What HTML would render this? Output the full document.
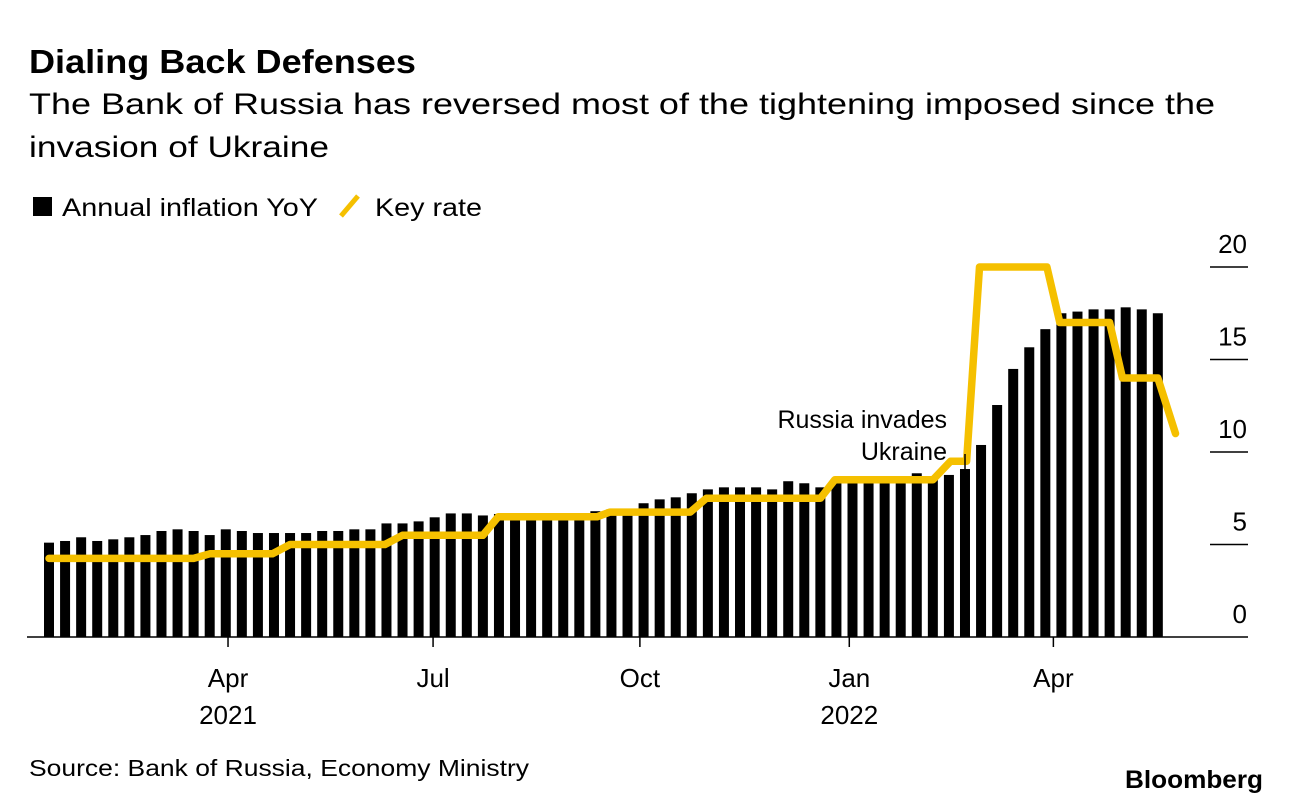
<!DOCTYPE html>
<html><head><meta charset="utf-8">
<style>
html,body{margin:0;padding:0;background:#fff;}
svg{display:block;font-family:"Liberation Sans",Arial,sans-serif;}
</style></head>
<body>
<svg id="chart" width="1292" height="806" viewBox="0 0 1292 806" xmlns="http://www.w3.org/2000/svg">
  <text x="29" y="73" font-size="33" font-weight="bold" textLength="387" lengthAdjust="spacingAndGlyphs">Dialing Back Defenses</text>
  <text x="29" y="114" font-size="30" textLength="1186" lengthAdjust="spacingAndGlyphs">The Bank of Russia has reversed most of the tightening imposed since the</text>
  <text x="29" y="157" font-size="30" textLength="300" lengthAdjust="spacingAndGlyphs">invasion of Ukraine</text>
  <g>
    <rect x="33" y="197" width="19" height="19" fill="#000"/>
    <text x="62" y="216" font-size="25" textLength="256" lengthAdjust="spacingAndGlyphs">Annual inflation YoY</text>
    <line x1="341" y1="216" x2="358" y2="196" stroke="#f5c000" stroke-width="5"/>
    <text x="375" y="216" font-size="25" textLength="107" lengthAdjust="spacingAndGlyphs">Key rate</text>
  </g>
  <g id="grid"></g>
  <g id="bars"></g>
  <g id="line"></g>
  <g id="axes"></g>
  <text x="947" y="428" font-size="25" text-anchor="end">Russia invades</text>
  <text x="947" y="460" font-size="25" text-anchor="end">Ukraine</text>
  <line x1="965" y1="454" x2="965" y2="470" stroke="#000" stroke-width="1.5"/>
  <text x="29" y="776" font-size="23" textLength="500" lengthAdjust="spacingAndGlyphs">Source: Bank of Russia, Economy Ministry</text>
  <text x="1263" y="788" font-size="25" font-weight="bold" text-anchor="end" textLength="138" lengthAdjust="spacingAndGlyphs">Bloomberg</text>
</svg>
<script>
const inflation = [5.10,5.19,5.39,5.19,5.28,5.39,5.51,5.73,5.82,5.73,5.51,5.82,5.73,5.62,5.62,5.62,5.62,5.73,5.73,5.82,5.82,6.14,6.14,6.25,6.47,6.68,6.68,6.57,6.65,6.6,6.6,6.65,6.65,6.7,6.8,6.9,6.9,7.23,7.44,7.55,7.77,7.98,8.09,8.09,8.09,7.98,8.42,8.31,8.09,8.31,8.4,8.5,8.5,8.6,8.85,8.6,8.76,9.08,10.38,12.54,14.49,15.66,16.64,17.50,17.59,17.71,17.71,17.82,17.71,17.50];
const rateWeeks = [0,9.0,10.0,13.9,15.0,20.9,22.0,27.0,27.95,34.1,34.9,39.9,40.9,48.0,48.9,55.0,56.1,57.1,57.9,62.1,62.9,66.0,66.8,69.0,70.1];
const rateValues = [4.25,4.25,4.5,4.5,5,5,5.5,5.5,6.5,6.5,6.75,6.75,7.5,7.5,8.5,8.5,9.5,9.5,20,20,17,17,14,14,11];
const yTicks = [0,5,10,15,20];
const xTickWeeks = [11.14,23.9,36.77,49.8,62.5];
const xTickMonths = ["Apr","Jul","Oct","Jan","Apr"];
const xTickYears = ["2021","","","2022",""];

const NS = "http://www.w3.org/2000/svg";
const x0 = 49, pitch = 16.07, y0 = 637, pxPerUnit = 18.5;
const xScale = w => x0 + w * pitch;
const yScale = v => y0 - v * pxPerUnit;
function mk(tag, attrs, parent){const e=document.createElementNS(NS,tag);for(const k in attrs)e.setAttribute(k,attrs[k]);parent.appendChild(e);return e;}

const grid = document.getElementById('grid');
yTicks.forEach(t => {
  if (t > 0) {
    const l = mk('line',{x1:1210,x2:1248,y1:yScale(t),y2:yScale(t),stroke:'#000','stroke-width':1.5},grid);
    
    
  }
  const tx = mk('text',{x:1247,y:yScale(t)-14,'font-size':26,'text-anchor':'end'},grid);
  tx.textContent = t;
  
  
});

const bars = document.getElementById('bars');
inflation.forEach((v,i) => {
  const r = mk('rect',{x:xScale(i)-5,y:yScale(v),width:10,height:y0-yScale(v),fill:'#000'},bars);
  
  
});

const lineG = document.getElementById('line');
const pts = rateWeeks.map((w,i)=>xScale(w).toFixed(1)+','+yScale(rateValues[i]).toFixed(1)).join(' ');
const pl = mk('polyline',{points:pts,fill:'none',stroke:'#f5c000','stroke-width':7.5,'stroke-linejoin':'round','stroke-linecap':'round'},lineG);



const axes = document.getElementById('axes');
const ax = mk('line',{x1:27,x2:1248,y1:y0,y2:y0,stroke:'#000','stroke-width':1.5},axes);


xTickWeeks.forEach((w,i) => {
  const x = xScale(w);
  const tk = mk('line',{x1:x,x2:x,y1:y0,y2:y0+10,stroke:'#000','stroke-width':1.5},axes);
  
  
  const m = mk('text',{x:x,y:687,'font-size':26,'text-anchor':'middle'},axes);
  m.textContent = xTickMonths[i];
  
  
  if (xTickYears[i]) {
    const yv = mk('text',{x:x,y:724,'font-size':26,'text-anchor':'middle'},axes);
    yv.textContent = xTickYears[i];
    
    
  }
});
</script>
</body></html>
